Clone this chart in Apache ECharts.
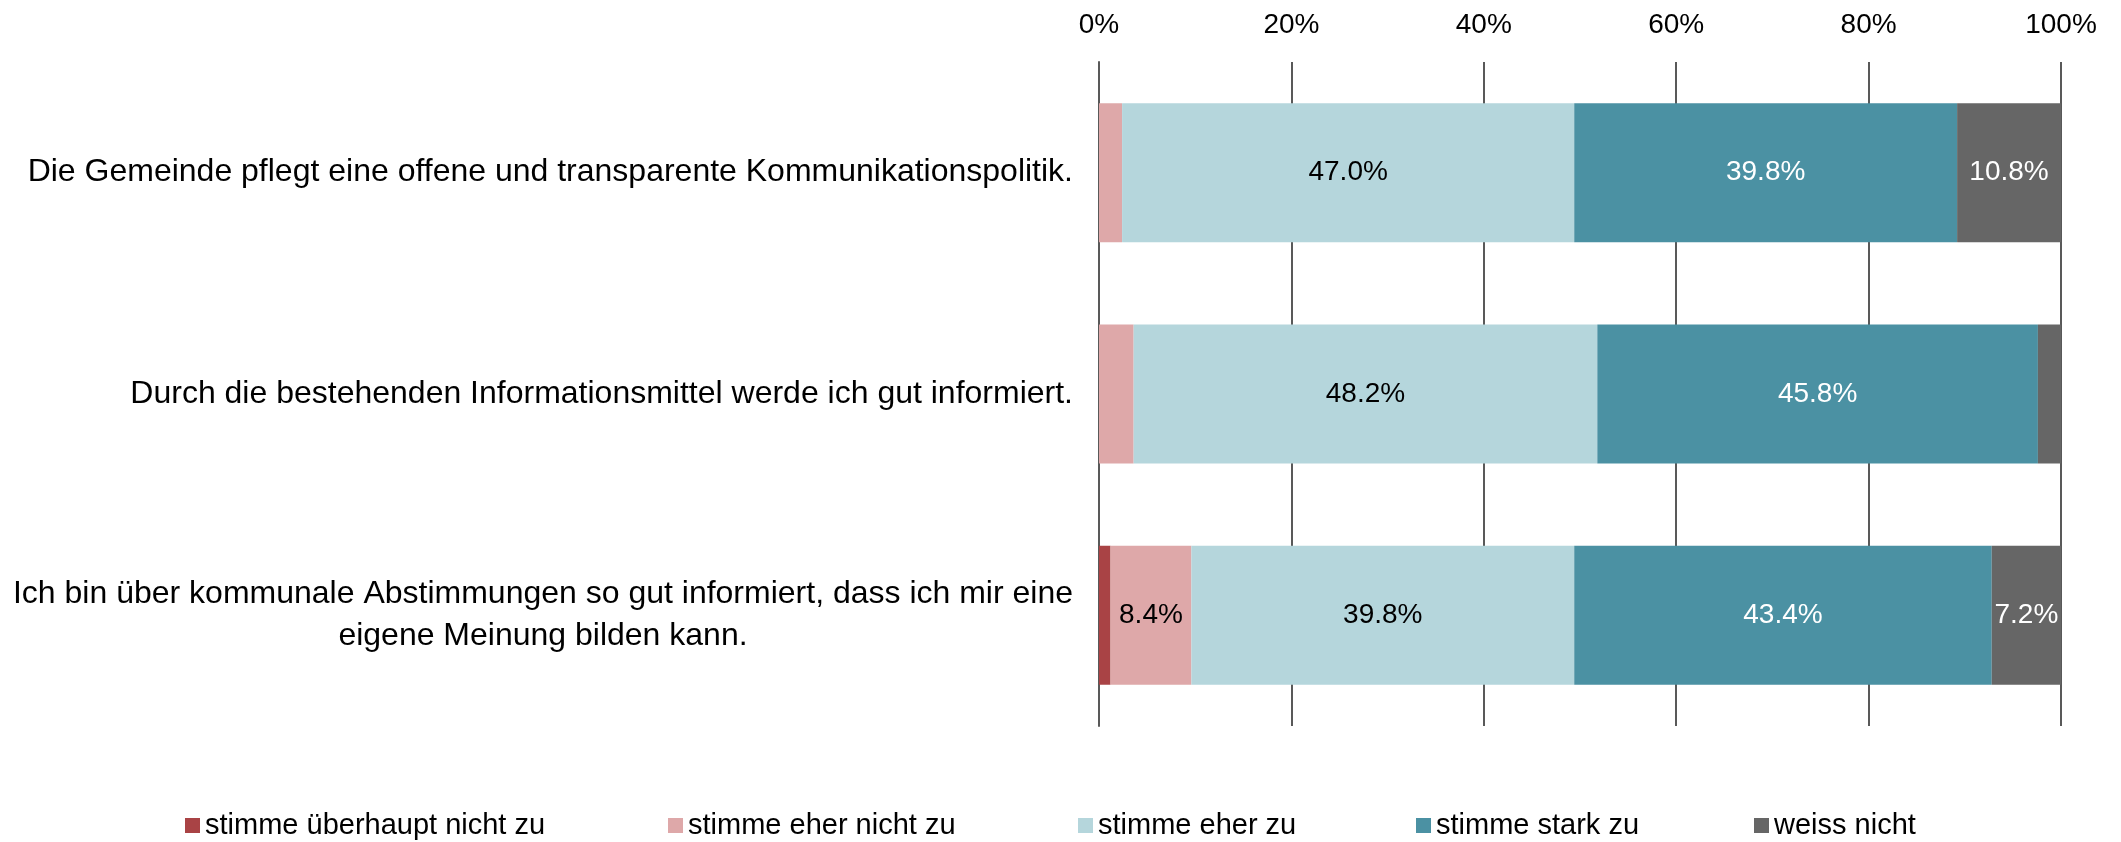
<!DOCTYPE html>
<html>
<head>
<meta charset="utf-8">
<script src="https://cdn.jsdelivr.net/npm/echarts@6/dist/echarts.min.js"></script>
<style>
  html, body { margin: 0; padding: 0; background: #fff; }
  #chart { width: 2121px; height: 842px; }
</style>
</head>
<body>
<div id="chart"></div>
<script>
// survey statements (bar rows, top to bottom)
const categories = [
  'Die Gemeinde pflegt eine offene und transparente Kommunikationspolitik.',
  'Durch die bestehenden Informationsmittel werde ich gut informiert.',
  'Ich bin über kommunale Abstimmungen so gut informiert, dass ich mir eine\neigene Meinung bilden kann.'
];

const seriesNames = ['stimme überhaupt nicht zu', 'stimme eher nicht zu', 'stimme eher zu', 'stimme stark zu', 'weiss nicht'];

// shares in percent, one value per statement
const notAtAll = [0, 0, 1.2];
const ratherNot = [2.4, 3.6, 8.4];
const ratherYes = [47.0, 48.2, 39.8];
const stronglyYes = [39.8, 45.8, 43.4];
const dontKnow = [10.8, 2.4, 7.2];

const xTicks = [0, 20, 40, 60, 80, 100];

const seriesValues = [notAtAll, ratherNot, ratherYes, stronglyYes, dontKnow];
const colors = ['#a94345', '#dea8a9', '#b5d6dc', '#4b91a3', '#666666'];
const labelColors = ['#fff', '#000', '#000', '#fff', '#fff'];
const legendLeft = [185, 668, 1078, 1416, 1754];

const font = '"Liberation Sans", Arial, sans-serif';

const chart = echarts.init(document.getElementById('chart'));

const option = {
  backgroundColor: '#fff',
  animation: false,
  textStyle: { fontFamily: font },
  grid: { left: 1099, right: 60, top: 62, bottom: 116 },
  legend: seriesNames.map((name, i) => ({
    data: [name],
    left: legendLeft[i],
    top: 811,
    icon: 'rect',
    itemWidth: 15,
    itemHeight: 15,
    itemGap: 0,
    padding: 0,
    selectedMode: false,
    textStyle: { fontSize: 29, color: '#000', fontFamily: font }
  })),
  xAxis: {
    type: 'value',
    position: 'top',
    min: xTicks[0],
    max: xTicks[xTicks.length - 1],
    interval: xTicks[1] - xTicks[0],
    axisLine: { show: false },
    axisTick: { show: false },
    axisLabel: {
      formatter: '{value}%',
      fontSize: 28,
      color: '#000',
      margin: 23,
      fontFamily: font
    },
    splitLine: { show: true, lineStyle: { color: '#595959', width: 2 } }
  },
  yAxis: {
    type: 'category',
    inverse: true,
    data: categories,
    axisLine: { show: true, lineStyle: { color: '#595959', width: 2 } },
    axisTick: { show: false },
    axisLabel: {
      margin: 26,
      align: 'right',
      formatter: v => v.split('\n').map(l => '{c|' + l + '}').join('\n'),
      rich: {
        c: { align: 'center', fontSize: 32, lineHeight: 42, color: '#000', fontFamily: font }
      }
    }
  },
  series: seriesNames.map((name, i) => ({
    name: name,
    type: 'bar',
    stack: 'total',
    barWidth: 139,
    data: seriesValues[i],
    itemStyle: { color: colors[i] },
    label: {
      show: true,
      position: 'inside',
      fontSize: 28,
      color: labelColors[i],
      fontFamily: font,
      formatter: p => (p.value > 5 ? p.value.toFixed(1) + '%' : '')
    }
  }))
};

chart.setOption(option);
</script>
</body>
</html>
